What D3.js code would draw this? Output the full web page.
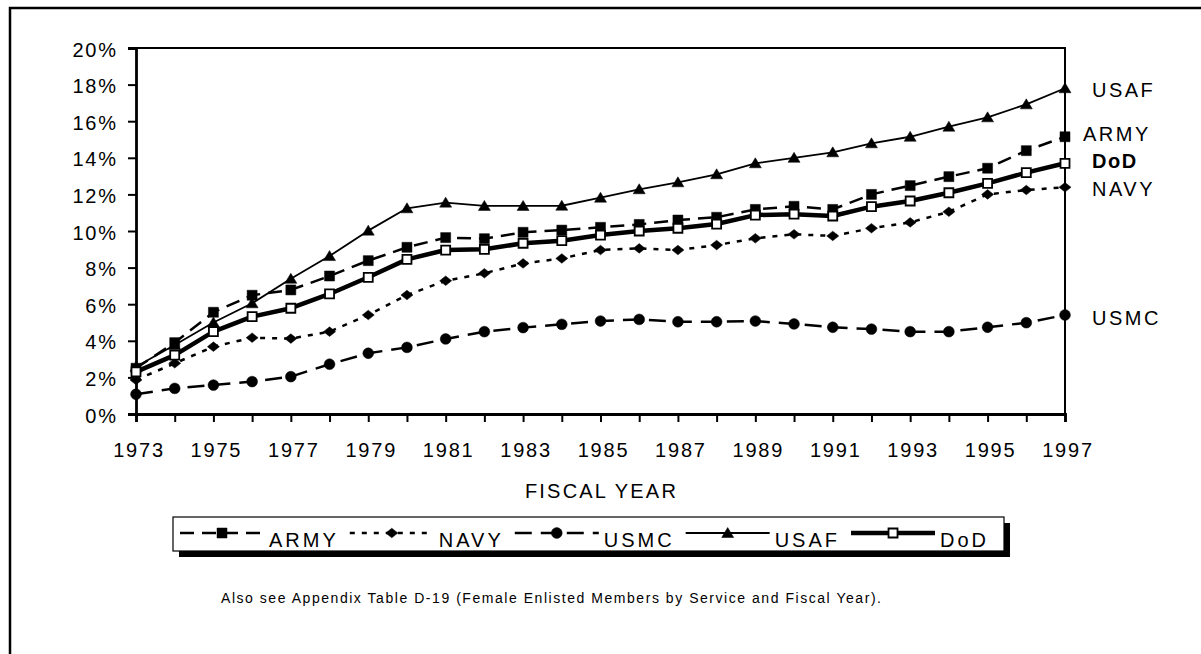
<!DOCTYPE html>
<meta charset="utf-8">
<style>
  body { margin: 0; background: #fff; }
  svg text { font-family: "Liberation Sans", Arial, sans-serif; fill: #000; }
</style>
<svg width="1201" height="654"></svg>
<script src="https://d3js.org/d3.v7.min.js"></script>
<script>
  // fiscal years on the x axis
  var years = [1973, 1974, 1975, 1976, 1977, 1978, 1979, 1980, 1981, 1982, 1983, 1984, 1985,
    1986, 1987, 1988, 1989, 1990, 1991, 1992, 1993, 1994, 1995, 1996, 1997];
  var yearLabels = [1973, 1975, 1977, 1979, 1981, 1983, 1985, 1987, 1989, 1991, 1993, 1995, 1997];
  var pctTicks = [0, 2, 4, 6, 8, 10, 12, 14, 16, 18, 20];

  // percent of enlisted force that is female
  var army = [2.5, 3.9, 5.56, 6.49, 6.78, 7.54, 8.38, 9.11, 9.64, 9.58, 9.93, 10.05, 10.2,
    10.36, 10.6, 10.75, 11.18, 11.35, 11.18, 12.0, 12.48, 12.97, 13.43, 14.39, 15.15];
  var navy = [1.86, 2.77, 3.68, 4.17, 4.12, 4.5, 5.41, 6.5, 7.28, 7.69, 8.23, 8.5, 8.96,
    9.05, 8.96, 9.23, 9.6, 9.82, 9.73, 10.15, 10.47, 11.05, 12.0, 12.24, 12.39];
  var usmc = [1.08, 1.4, 1.58, 1.77, 2.04, 2.72, 3.32, 3.64, 4.1, 4.5, 4.72, 4.9, 5.08,
    5.17, 5.04, 5.04, 5.08, 4.92, 4.74, 4.64, 4.5, 4.5, 4.74, 4.99, 5.41];
  var usaf = [2.58, 3.77, 5.0, 6.05, 7.39, 8.63, 10.02, 11.24, 11.55, 11.37, 11.37, 11.38, 11.82,
    12.28, 12.66, 13.1, 13.7, 14.0, 14.3, 14.79, 15.15, 15.7, 16.21, 16.92, 17.8];
  var dod = [2.3, 3.22, 4.5, 5.32, 5.78, 6.56, 7.47, 8.45, 8.96, 9.0, 9.33, 9.47, 9.78,
    10.0, 10.15, 10.38, 10.87, 10.92, 10.82, 11.33, 11.64, 12.09, 12.6, 13.19, 13.7];

  var seriesNames = ["ARMY", "NAVY", "USMC", "USAF", "DoD"];
  var seriesValues = [army, navy, usmc, usaf, dod];

  // line / marker style per service (Excel-ish)
  var styles = {
    ARMY: { width: 2.5, dash: "14,8", marker: "square" },
    NAVY: { width: 2.5, dash: "5,7", marker: "diamond" },
    USMC: { width: 2.5, dash: "17,9", marker: "circle" },
    USAF: { width: 1.8, dash: null, marker: "triangle" },
    DoD: { width: 4.5, dash: null, marker: "hollow" }
  };

  var svg = d3.select("svg");
  var plotL = 136, plotR = 1065, plotT = 48, plotB = 414;

  var x = d3.scaleLinear().domain([1973, 1997]).range([plotL, plotR]);
  var y = d3.scaleLinear().domain([0, 20]).range([plotB, plotT]);

  // outer frame (only left and top edges are visible)
  svg.append("path")
    .attr("d", "M10,660V8H1210")
    .attr("fill", "none").attr("stroke", "#000").attr("stroke-width", 2.5);

  // plot frame: top and right edges
  svg.append("path")
    .attr("d", "M" + plotL + "," + plotT + "H" + plotR + "V" + plotB)
    .attr("fill", "none").attr("stroke", "#000").attr("stroke-width", 2);

  // y axis
  var yAxis = svg.append("g")
    .attr("transform", "translate(" + plotL + ",0)")
    .call(d3.axisLeft(y).tickValues(pctTicks).tickSize(8).tickPadding(12)
      .tickFormat(function (d) { return d + "%"; }));
  // x axis
  var xAxis = svg.append("g")
    .attr("transform", "translate(0," + plotB + ")")
    .call(d3.axisBottom(x).tickValues(years).tickSize(8).tickFormat(function (d) {
      return yearLabels.indexOf(d) >= 0 ? d : "";
    }).tickPadding(21));

  [yAxis, xAxis].forEach(function (a) {
    a.select(".domain").attr("stroke-width", 2.8);
    a.selectAll(".tick line").attr("stroke-width", 2);
    a.selectAll("text").attr("font-size", 20).attr("letter-spacing", 1.8)
      .attr("font-family", "Liberation Sans, Arial, sans-serif");
  });
  yAxis.selectAll("text").attr("dx", 1.8).attr("dy", "0.4em");
  xAxis.selectAll("text").attr("dx", 2.5);

  svg.append("text")
    .attr("x", x(1985) + 1).attr("y", 498)
    .attr("text-anchor", "middle")
    .attr("font-size", 20).attr("letter-spacing", 2.2)
    .text("FISCAL YEAR");

  function markerPath(kind) {
    if (kind === "square") return "M-5,-5h10v10h-10Z";
    if (kind === "hollow") return "M-4.5,-4.5h9v9h-9Z";
    if (kind === "diamond") return "M-6,0L0,-4.8L6,0L0,4.8Z";
    if (kind === "triangle") return "M-6,4.5L0,-5.5L6,4.5Z";
    return d3.symbol(d3.symbolCircle, Math.PI * 5.4 * 5.4)();
  }

  function drawMarker(sel, kind) {
    sel.append("path")
      .attr("d", markerPath(kind))
      .attr("fill", kind === "hollow" ? "#fff" : "#000")
      .attr("stroke", "#000")
      .attr("stroke-width", kind === "hollow" ? 1.8 : 0.5);
  }

  var line = d3.line()
    .x(function (d, i) { return x(years[i]); })
    .y(function (d) { return y(d); });

  seriesNames.forEach(function (name, si) {
    var st = styles[name];
    var vals = seriesValues[si];
    var g = svg.append("g");
    g.append("path")
      .attr("d", line(vals))
      .attr("fill", "none")
      .attr("stroke", "#000")
      .attr("stroke-width", st.width)
      .attr("stroke-linejoin", "round")
      .attr("stroke-dasharray", st.dash);
    vals.forEach(function (v, i) {
      drawMarker(g.append("g").attr("transform", "translate(" + x(years[i]) + "," + y(v) + ")"), st.marker);
    });
  });

  // labels at the right end of each line
  var endLabelX = { USAF: 1092, ARMY: 1083, DoD: 1092, NAVY: 1092, USMC: 1092 };
  var endLabelDy = { USAF: 2, ARMY: -3, DoD: -2, NAVY: 2, USMC: 3.5 };
  seriesNames.forEach(function (name, si) {
    var vals = seriesValues[si];
    svg.append("text")
      .attr("x", endLabelX[name])
      .attr("y", y(vals[vals.length - 1]) + endLabelDy[name])
      .attr("dy", "0.35em")
      .attr("font-size", 20)
      .attr("letter-spacing", name === "DoD" ? 1.5 : 2.5)
      .attr("font-weight", name === "DoD" ? "bold" : null)
      .text(name);
  });

  // legend
  var legend = svg.append("g");
  var lgX = 173, lgY = 517, lgW = 831, lgH = 34;
  legend.append("rect")
    .attr("x", lgX + 6).attr("y", lgY + 6).attr("width", lgW).attr("height", lgH)
    .attr("fill", "#000");
  legend.append("rect")
    .attr("x", lgX).attr("y", lgY).attr("width", lgW).attr("height", lgH)
    .attr("fill", "#fff").attr("stroke", "#000").attr("stroke-width", 1.2);

  var cx = 180;
  seriesNames.forEach(function (name) {
    var st = styles[name];
    var it = legend.append("g").attr("transform", "translate(" + cx + ",533)");
    it.append("line")
      .attr("x1", 0).attr("x2", 84)
      .attr("stroke", "#000").attr("stroke-width", st.width)
      .attr("stroke-dasharray", st.dash);
    drawMarker(it.append("g").attr("transform", "translate(42,0)"), st.marker);
    var t = it.append("text")
      .attr("x", 89).attr("y", 13.5)
      .attr("font-size", 20).attr("letter-spacing", 3)
      .text(name);
    cx += 89 + t.node().getComputedTextLength() + 11;
  });

  svg.append("text")
    .attr("x", 221).attr("y", 603)
    .attr("font-size", 14)
    .attr("textLength", 660).attr("lengthAdjust", "spacing")
    .text("Also see Appendix Table D-19 (Female Enlisted Members by Service and Fiscal Year).");
</script>
